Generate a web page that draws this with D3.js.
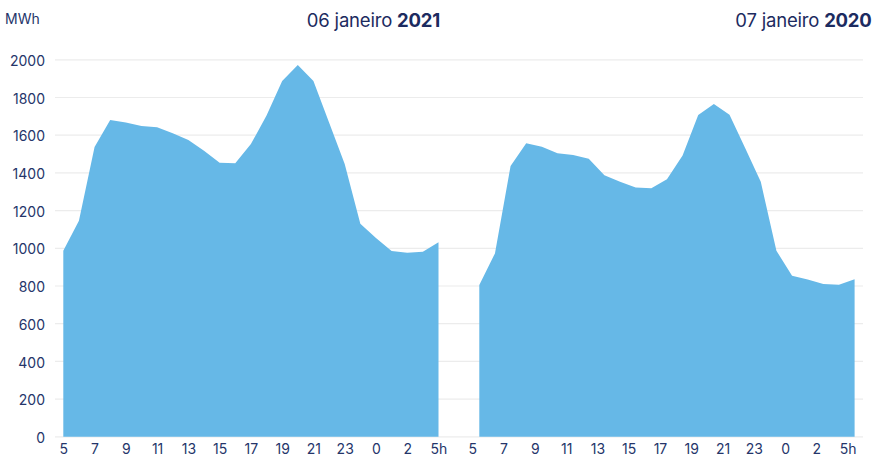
<!DOCTYPE html>
<html>
<head>
<meta charset="utf-8">
<script src="https://cdnjs.cloudflare.com/ajax/libs/d3/7.8.5/d3.min.js"></script>
<style>
  body { margin: 0; background: #fff; }
  svg text { font-family: Inter, "Noto Sans", sans-serif; fill: #25356a; }
</style>
</head>
<body>
<div id="chart"></div>
<script>
// hours 5h -> 5h the next day
var hours = [5,6,7,8,9,10,11,12,13,14,15,16,17,18,19,20,21,22,23,0,1,2,3,4,5];
var tickLabels = ["5","7","9","11","13","15","17","19","21","23","0","2","5h"];
var yTicks = [0,200,400,600,800,1000,1200,1400,1600,1800,2000];

var day2021 = [987,1146,1537,1681,1668,1649,1642,1610,1575,1518,1454,1451,1553,1705,1888,1972,1888,1668,1447,1130,1055,986,977,982,1032];
var day2020 = [805,973,1437,1557,1539,1504,1495,1475,1387,1353,1322,1318,1366,1492,1707,1765,1708,1532,1353,987,855,835,810,807,836];

var panels = [
  { title: "06 janeiro ", year: "2021", values: day2021, x0: 63.3, x1: 438.5, labelShift: 0 },
  { title: "07 janeiro ", year: "2020", values: day2020, x0: 479.3, x1: 854.6, labelShift: -7 }
];

var width = 881, height = 461;

var svg = d3.select("#chart").append("svg")
  .attr("width", width)
  .attr("height", height);

var y = d3.scaleLinear().domain([0, 2000]).range([436.8, 59.8]);

// grid lines across both panels
svg.append("g")
  .selectAll("line")
  .data(yTicks)
  .enter()
  .append("line")
    .attr("x1", 55)
    .attr("x2", 863)
    .attr("y1", function (d) { return y(d); })
    .attr("y2", function (d) { return y(d); })
    .attr("stroke", "#ececec")
    .attr("stroke-width", 1.2);

var yAxis = svg.append("g")
  .attr("transform", "translate(45,0)")
  .call(d3.axisLeft(y).tickValues(yTicks).tickSize(0).tickPadding(0).tickFormat(d3.format("d")));
yAxis.select(".domain").remove();
yAxis.selectAll("text")
  .attr("font-size", 14)
  .attr("dy", "0.4em");

svg.append("text")
  .attr("x", 5)
  .attr("y", 23.5)
  .attr("font-size", 14)
  .text("MWh");

panels.forEach(function (p) {
  var x = d3.scaleLinear().domain([0, hours.length - 1]).range([p.x0, p.x1]);

  var area = d3.area()
    .x(function (d, i) { return x(i); })
    .y0(y(0))
    .y1(function (d) { return y(d); });

  svg.append("path")
    .datum(p.values)
    .attr("d", area)
    .attr("fill", "#66b8e7");

  var tickIdx = d3.range(0, hours.length, 2);
  var xAxis = svg.append("g")
    .attr("transform", "translate(0,444)")
    .call(d3.axisBottom(x).tickValues(tickIdx).tickSize(0).tickPadding(0)
      .tickFormat(function (d, i) { return tickLabels[i]; }));
  xAxis.select(".domain").remove();
  xAxis.selectAll("text")
    .attr("font-size", 14)
    .attr("dy", "0.71em")
    .attr("dx", p.labelShift);

  var t = svg.append("text")
    .attr("x", p.x1 + (p.labelShift ? 17 : 1.5))
    .attr("y", 27)
    .attr("text-anchor", "end")
    .attr("font-size", 18.5)
    .attr("letter-spacing", -0.2)
    .style("fill", "#1c2b60");
  t.append("tspan").text(p.title);
  t.append("tspan").attr("font-weight", 700).text(p.year);
});
</script>
</body>
</html>
